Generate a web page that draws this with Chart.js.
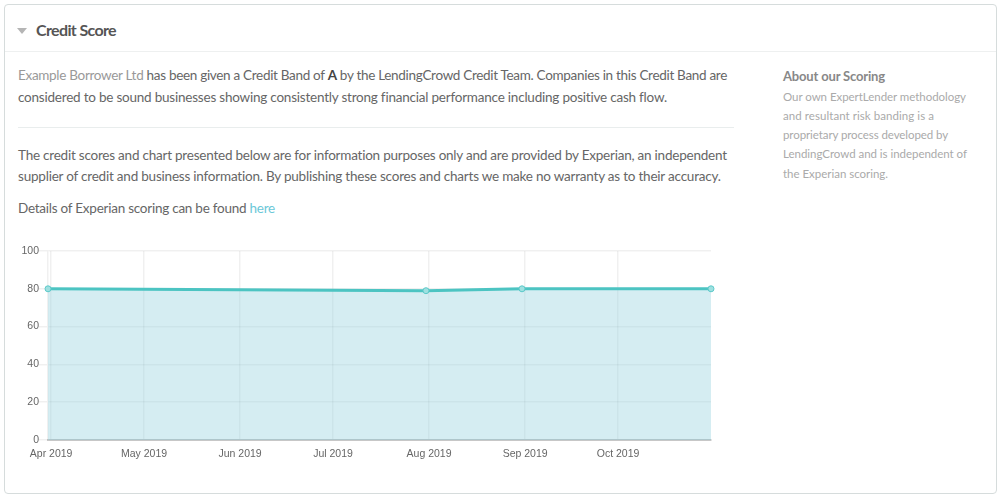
<!DOCTYPE html>
<html>
<head>
<meta charset="utf-8">
<script src="https://cdn.jsdelivr.net/npm/chart.js@4/dist/chart.umd.min.js"></script>
<style>
  html, body { margin: 0; background: #fff; }
  body { width: 1000px; height: 498px; position: relative; overflow: hidden; font-family: Lato, sans-serif; color: #666; }
  .card { position: absolute; left: 4px; top: 4px; width: 991px; height: 488px; border: 1px solid #d6dcdc; border-radius: 4px; }
  .head-rule { position: absolute; left: 5px; top: 51px; width: 991px; height: 1px; background: #eef0f0; }
  .rule { position: absolute; left: 18px; top: 127px; width: 716px; height: 1px; background: #e9eded; }
  .arrow { position: absolute; left: 17px; top: 28px; width: 0; height: 0; border-left: 5px solid transparent; border-right: 5px solid transparent; border-top: 6px solid #b5b5b5; }
  .line { position: absolute; white-space: nowrap; font-size: 13.5px; line-height: 20px; }
  .title { font-size: 16px; font-weight: 700; color: #555; }
  .side { font-size: 11.5px; color: #aaa; line-height: 18px; }
  .side-title { font-size: 13px; font-weight: 700; color: #888; }
  .muted { color: #999; }
  .link { color: #6cc8d8; }
  b { color: #444; }
  #wrap { position: absolute; left: 0; top: 240px; width: 740px; height: 230px; }
</style>
</head>
<body>
<div class="card"></div>
<div class="head-rule"></div>
<div class="arrow"></div>
<div class="line title" style="left:36px;top:20px" data-w="80">Credit Score</div>
<div class="line" style="left:18px;top:65px" data-w="709"><span class="muted">Example Borrower Ltd</span> has been given a Credit Band of <b>A</b> by the LendingCrowd Credit Team. Companies in this Credit Band are</div>
<div class="line" style="left:18px;top:87px" data-w="649">considered to be sound businesses showing consistently strong financial performance including positive cash flow.</div>
<div class="rule"></div>
<div class="line" style="left:18px;top:145px" data-w="709">The credit scores and chart presented below are for information purposes only and are provided by Experian, an independent</div>
<div class="line" style="left:18px;top:166px" data-w="703">supplier of credit and business information. By publishing these scores and charts we make no warranty as to their accuracy.</div>
<div class="line" style="left:18px;top:198px" data-w="257">Details of Experian scoring can be found <span class="link">here</span></div>
<div class="line side-title" style="left:783px;top:66px" data-w="102">About our Scoring</div>
<div class="line side" style="left:783px;top:88px" data-w="183">Our own ExpertLender methodology</div>
<div class="line side" style="left:783px;top:107px" data-w="151">and resultant risk banding is a</div>
<div class="line side" style="left:783px;top:126px" data-w="165">proprietary process developed by</div>
<div class="line side" style="left:783px;top:145px" data-w="184">LendingCrowd and is independent of</div>
<div class="line side" style="left:783px;top:165px" data-w="105">the Experian scoring.</div>
<div id="wrap"><canvas id="canvas"></canvas></div>
<script>
// days counted from 31 Mar 2019
var pointDays = [0, 122, 153, 214];
var creditScores = [80, 79, 80, 80];
var tickDays = [1, 31, 62, 92, 123, 154, 184];
var tickLabels = ["Apr 2019", "May 2019", "Jun 2019", "Jul 2019", "Aug 2019", "Sep 2019", "Oct 2019"];

// squeeze each text line to the width it has in the reference
document.querySelectorAll('.line').forEach(function(el){
  var extra = el.dataset.w - el.getBoundingClientRect().width;
  el.style.letterSpacing = (extra / el.textContent.length) + 'px';
});

var points = pointDays.map(function(d, i){ return {x: d, y: creditScores[i]}; });

new Chart(document.getElementById("canvas").getContext("2d"), {
  type: 'line',
  data: {
    datasets: [{
      label: "Credit Score",
      data: points,
      fill: true,
      clip: false,
      tension: 0,
      backgroundColor: "rgba(145,207,222,0.38)",
      borderColor: "#4cc4c2",
      borderWidth: 3,
      pointRadius: 3,
      pointBorderWidth: 1,
      pointBackgroundColor: "#9fe0e0",
      pointBorderColor: "#5cc9c9"
    }]
  },
  options: {
    responsive: true,
    maintainAspectRatio: false,
    animation: false,
    layout: { padding: { top: 11, right: 29, bottom: 0, left: 0 } },
    plugins: { legend: { display: false }, tooltip: { enabled: false } },
    scales: {
      x: {
        type: 'linear',
        min: 0,
        max: 214,
        afterBuildTicks: function(scale){
          scale.ticks = tickDays.map(function(d){ return {value: d}; });
        },
        ticks: {
          autoSkip: false,
          maxRotation: 0,
          padding: 8,
          color: "#666",
          font: { family: "'Liberation Sans'", size: 10.5 },
          callback: function(value){ return tickLabels[tickDays.indexOf(value)]; }
        },
        grid: { color: "rgba(0,0,0,0.06)", lineWidth: 1.5, drawTicks: false },
        border: { color: "rgba(0,0,0,0.2)", width: 2 },
        afterFit: function(scale){ scale.height = 30; }
      },
      y: {
        min: 0,
        max: 100,
        ticks: {
          stepSize: 20,
          padding: 0,
          color: "#666",
          font: { family: "'Liberation Sans'", size: 10.5 }
        },
        grid: { color: "rgba(0,0,0,0.06)", lineWidth: 1.5, tickLength: 9 },
        border: { color: "rgba(0,0,0,0.06)", width: 1.5 },
        afterFit: function(scale){ scale.width = 48; }
      }
    }
  }
});
</script>
</body>
</html>
